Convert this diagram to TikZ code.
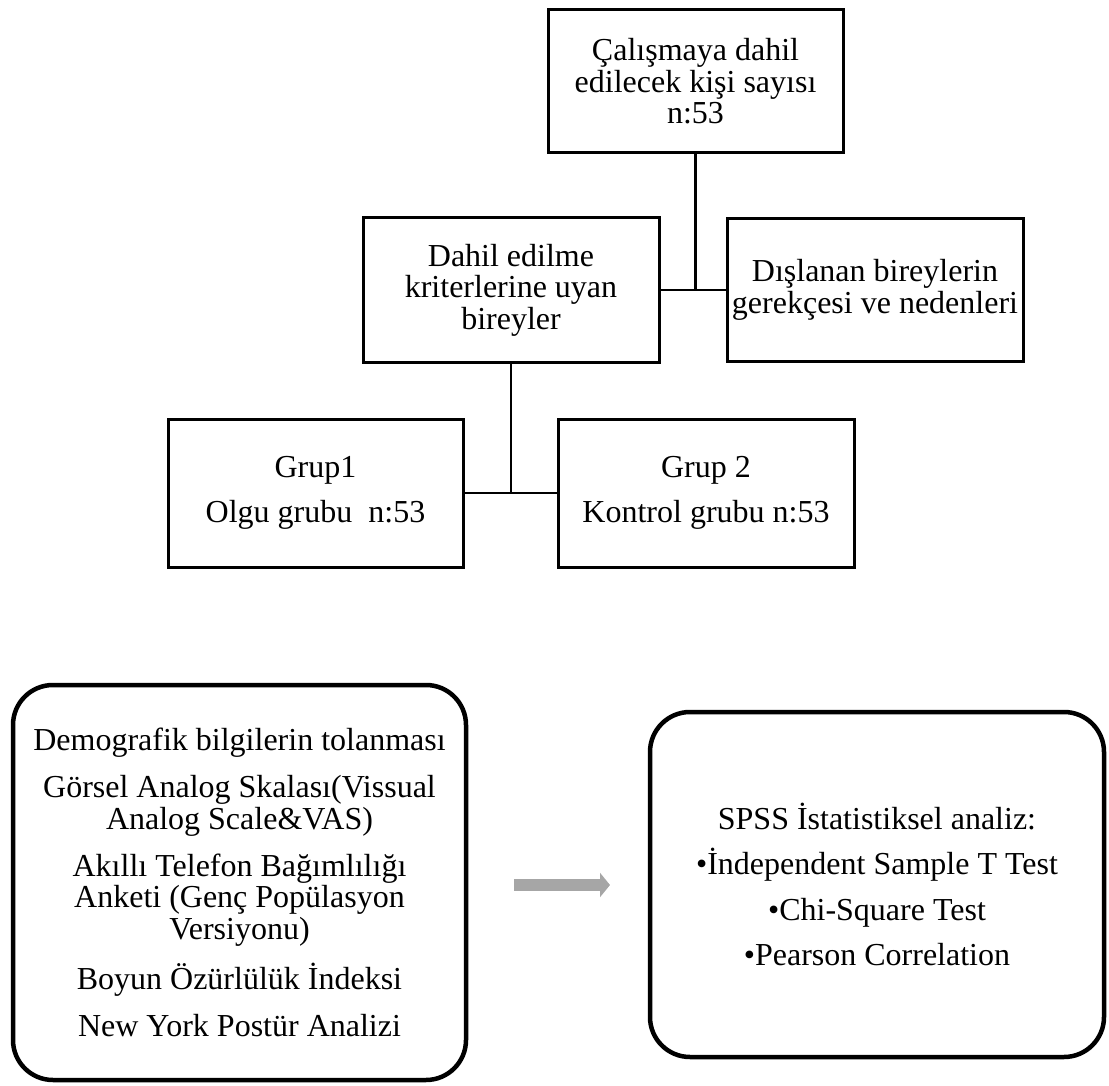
\documentclass[tikz,border=0pt]{standalone}
\usepackage{fontspec}
\setmainfont{Liberation Serif}
\usetikzlibrary{arrows.meta}

\begin{document}
\begin{tikzpicture}[x=1pt, y=-1pt,
		box/.style={draw, line width=3pt, align=center, inner sep=0pt, font=\fontsize{32}{31.5}\selectfont},
		roundbox/.style={box, line width=4.5pt, rounded corners=40pt},
		link/.style={line width=2.5pt}]
		\definecolor{arrowgray}{RGB}{166,166,166}
		\useasboundingbox (0,0) rectangle (1109,1086);
		\node[box, minimum width=295pt, minimum height=143pt] (total) at (695.5,81.5) {Çalışmaya dahil\\edilecek kişi sayısı\\n:53};
		\node[box, minimum width=296pt, minimum height=144pt] (incl) at (511,290) {Dahil edilme\\kriterlerine uyan\\bireyler};
		\node[box, minimum width=296pt, minimum height=142pt] (excl) at (875,290) {Dışlanan bireylerin\\gerekçesi ve nedenleri};
		\node[box, minimum width=295pt, minimum height=148pt] (grup1) at (315.5,493) {Grup1\\[13.5pt]Olgu grubu~ n:53};
		\node[box, minimum width=296pt, minimum height=148pt] (grup2) at (706,493) {Grup 2\\[13.5pt]Kontrol grubu n:53};
		\draw[link] (total.south) -- (total.south |- incl.east);
		\draw[link] (incl.east) -- (excl.west);
		\draw[link] (incl.south) -- (incl.south |- grup1.east);
		\draw[link] (grup1.east) -- (grup2.west);
		\node[roundbox, minimum width=453pt, minimum height=395pt] (tools) at (239.5,882.5) {Demografik bilgilerin tolanması\\[15.5pt]Görsel Analog Skalası(Vissual\\Analog Scale\&VAS)\\[15.5pt]Akıllı Telefon Bağımlılığı\\Anketi (Genç Popülasyon\\Versiyonu)\\[15.5pt]Boyun Özürlülük İndeksi\\[15.5pt]New York Postür Analizi};
		\node[roundbox, minimum width=454pt, minimum height=345pt] (stats) at (877,884.5) {SPSS İstatistiksel analiz:\\[14pt]•İndependent Sample T Test\\[14pt]•Chi-Square Test\\[14pt]•Pearson Correlation};
		\coordinate (arrfrom) at (514,885);
		\coordinate (arrto) at (610,885);
		\draw[arrowgray, line width=12pt, -{Triangle[length=10pt, width=24pt]}] (arrfrom) -- (arrto);
	\end{tikzpicture}
\end{document}
